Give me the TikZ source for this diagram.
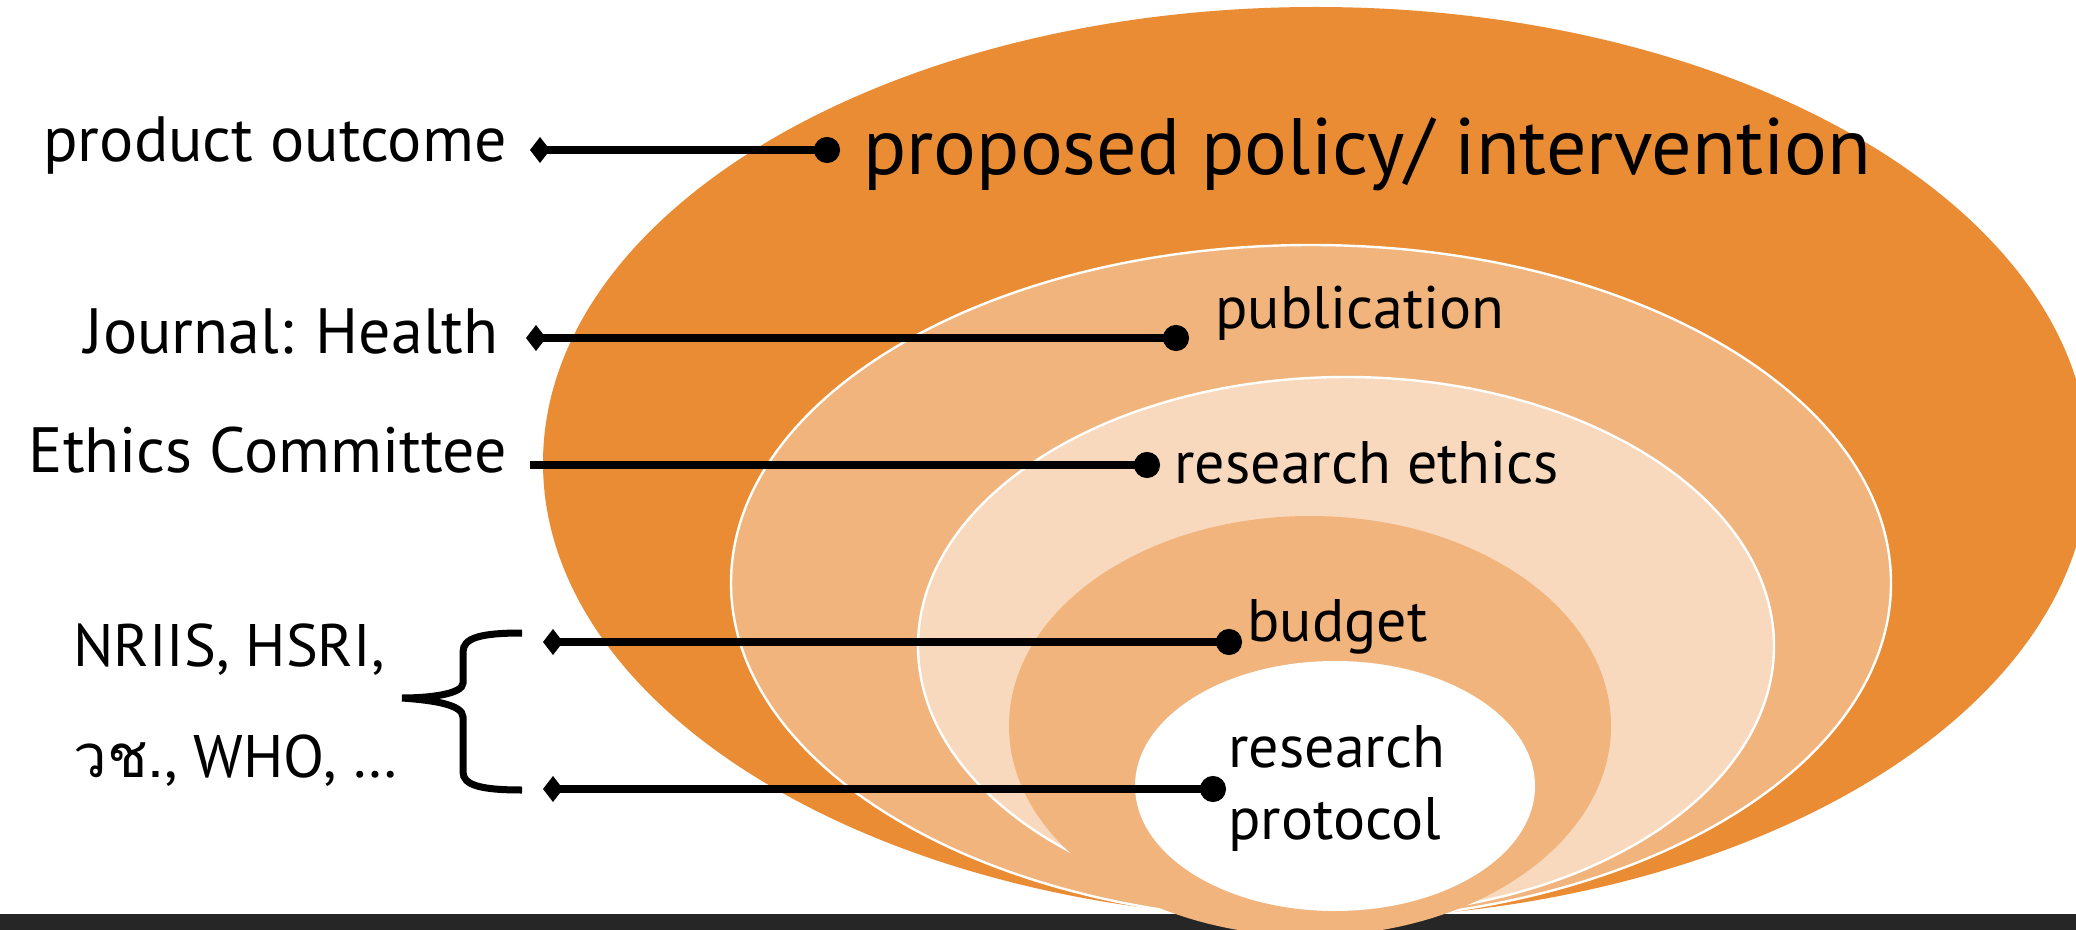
\documentclass[tikz,border=0pt]{standalone}
\usepackage{fontspec}
\setmainfont{PT Sans}
\newfontfamily\thaifont[Script=Thai]{Loma}
\usetikzlibrary{arrows.meta}
\definecolor{ringA}{HTML}{E98C34}
\definecolor{ringB}{HTML}{F0B47C}
\definecolor{ringC}{HTML}{F8D9BE}
\definecolor{barcol}{HTML}{262626}
\tikzset{
	ring/.style={draw=white, line width=1.2pt},
	lbl/.style={inner sep=0pt, font=\fontsize{30}{36}\selectfont},
	side/.style={inner sep=0pt, font=\fontsize{32}{38}\selectfont},
	big/.style={inner sep=0pt, font=\fontsize{40}{46}\selectfont},
	link/.style={line width=4pt, {Diamond[length=10pt,width=13pt]}-{Circle[length=13pt]}},
	flat/.style={line width=4pt, -{Circle[length=13pt]}},
}
\begin{document}
\begin{tikzpicture}[x=0.5pt, y=-0.5pt]
	\useasboundingbox (0,0) rectangle (2076,930);
	\fill[white] (0,0) rectangle (2076,930);

	% rings
	\fill[ringA] (1316,463) ellipse [x radius=386.5pt, y radius=228pt];
	\filldraw[ringB, ring] (1311,583) ellipse [x radius=290pt, y radius=169pt];
	\filldraw[ringC, ring] (1346,646) ellipse [x radius=214pt, y radius=134.5pt];
	\fill[barcol] (0,914) rectangle (2076,930);
	\fill[ringB] (1310,726) ellipse [x radius=150.5pt, y radius=105pt];
	\fill[white] (1335,786) ellipse [x radius=100pt, y radius=62.5pt];

	% ring labels
	\node[big, anchor=west] (pol) at (863,154) {proposed policy/ intervention};
	\node[lbl, anchor=west] (pub) at (1215,313) {publication};
	\node[lbl, anchor=west] (eth) at (1174,463) {research ethics};
	\node[lbl, anchor=west] (bud) at (1247,627) {budget};
	\node[lbl, anchor=west, align=left] (pro) at (1228,788) {research\\protocol};

	% left labels
	\node[side, anchor=east] (out) at (507,146) {product outcome};
	\node[side, anchor=east] (jou) at (499,331) {Journal: Health};
	\node[side, anchor=east] (com) at (507,450) {Ethics Committee};
	\node[lbl, anchor=west] (fund1) at (73,650) {NRIIS, HSRI,};
	\node[lbl, anchor=west] (fund2) at (73,761) {{\thaifont วช.}, WHO, \ldots};

	\coordinate (out-e) at (530,150);
	\coordinate (pol-w) at (840,150);
	\coordinate (jou-e) at (526,338);
	\coordinate (pub-w) at (1189,338);
	\coordinate (com-e) at (530,465);
	\coordinate (eth-w) at (1160,465);
	\coordinate (fund-a) at (543,642);
	\coordinate (bud-w) at (1242,642);
	\coordinate (fund-b) at (543,789);
	\coordinate (pro-w) at (1226,789);

	\draw[link] (out-e) -- (pol-w);
	\draw[link] (jou-e) -- (pub-w);
	\draw[flat] (com-e) -- (eth-w);
	\draw[link] (fund-a) -- (bud-w);
	\draw[link] (fund-b) -- (pro-w);

	% brace
	\draw[line width=3.5pt] (522,633) .. controls (480,633) and (463,638) .. (463,652)
		-- (463,683) .. controls (463,694) and (430,698) .. (402,698)
		.. controls (430,700) and (463,704) .. (463,717)
		-- (463,772) .. controls (463,785) and (480,790) .. (522,790);
\end{tikzpicture}
\end{document}
